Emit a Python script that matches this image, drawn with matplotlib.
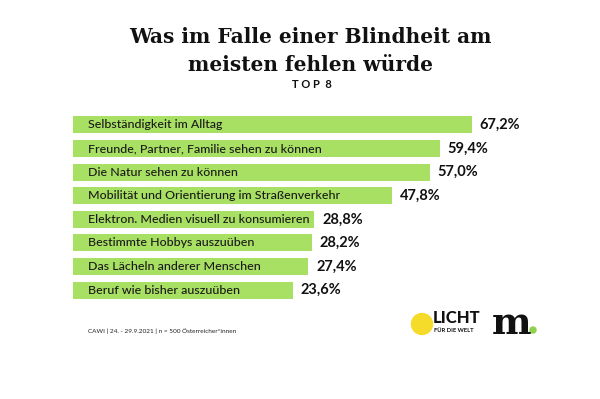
import numpy as np
import matplotlib.pyplot as plt
from matplotlib.patches import Circle

labels = [
    'Selbständigkeit im Alltag',
    'Freunde, Partner, Familie sehen zu können',
    'Die Natur sehen zu können',
    'Mobilität und Orientierung im Straßenverkehr',
    'Elektron. Medien visuell zu konsumieren',
    'Bestimmte Hobbys auszuüben',
    'Das Lächeln anderer Menschen',
    'Beruf wie bisher auszuüben',
]
values = [67.2, 59.4, 57.0, 47.8, 28.8, 28.2, 27.4, 23.6]
value_labels = ['67,2%', '59,4%', '57,0%', '47,8%', '28,8%', '28,2%', '27,4%', '23,6%']

title = 'Was im Falle einer Blindheit am\nmeisten fehlen würde'
subtitle = 'T O P  8'
source = 'CAWI | 24. - 29.9.2021 | n = 500 Österreicher*innen'

green = '#a8e063'
offset = 30.0  # bars start left of zero, as in the original
ppu = 4.1      # pixels per percent

fig = plt.figure(figsize=(6, 3.99), dpi=100)
fig.patch.set_facecolor('white')

# bar area: pixel x 73..600, y 113..302
ax = fig.add_axes([73 / 600, 1 - 302 / 399, (600 - 73) / 600, (302 - 113) / 399])
y = np.arange(len(values))
v = np.array(values)
ax.barh(y, v + offset, left=-offset, height=0.72, color=green)
ax.set_ylim(len(values) - 0.5, -0.5)
ax.set_xlim(-offset, -offset + (600 - 73) / ppu)
ax.axis('off')

for i, (lab, val, vl) in enumerate(zip(labels, values, value_labels)):
    ax.text(-offset + 15 / ppu, i, lab, va='center', ha='left',
            fontsize=8.9, color='#1a1a1a', family='Lato', fontweight='medium')
    ax.text(val + 8 / ppu, i, vl, va='center', ha='left',
            fontsize=10.5, color='#111111', family='Lato', fontweight='bold')

fig.text(310 / 600, 1 - 51 / 399, title, ha='center', va='center', fontsize=14.5,
         family='DejaVu Serif', fontweight='bold', linespacing=1.45, color='#111111')
fig.text(312 / 600, 1 - 84 / 399, subtitle, ha='center', va='center', fontsize=8,
         family='Lato', fontweight='bold', color='#111111')

fig.text(88 / 600, 1 - 331 / 399, source, ha='left', va='center', fontsize=4.6,
         family='Lato', color='#222222')

# logos, drawn in a pixel-space overlay
lax = fig.add_axes([0, 0, 1, 1])
lax.set_xlim(0, 600)
lax.set_ylim(399, 0)
lax.axis('off')
lax.add_patch(Circle((422, 324), 10.5, color='#f5dc2a'))
lax.text(433, 318, 'LICHT', ha='left', va='center', fontsize=12,
         family='Lato', fontweight='black', color='#111111')
lax.text(434, 331, 'FÜR DIE WELT', ha='left', va='center', fontsize=4.2,
         family='Lato', fontweight='bold', color='#111111')
lax.text(492, 334, 'm', ha='left', va='baseline', fontsize=27,
         family='DejaVu Serif', fontweight='bold', color='#111111')
lax.add_patch(Circle((533, 330), 3, color='#8fd14f'))

fig.savefig('out.png', dpi=100)
